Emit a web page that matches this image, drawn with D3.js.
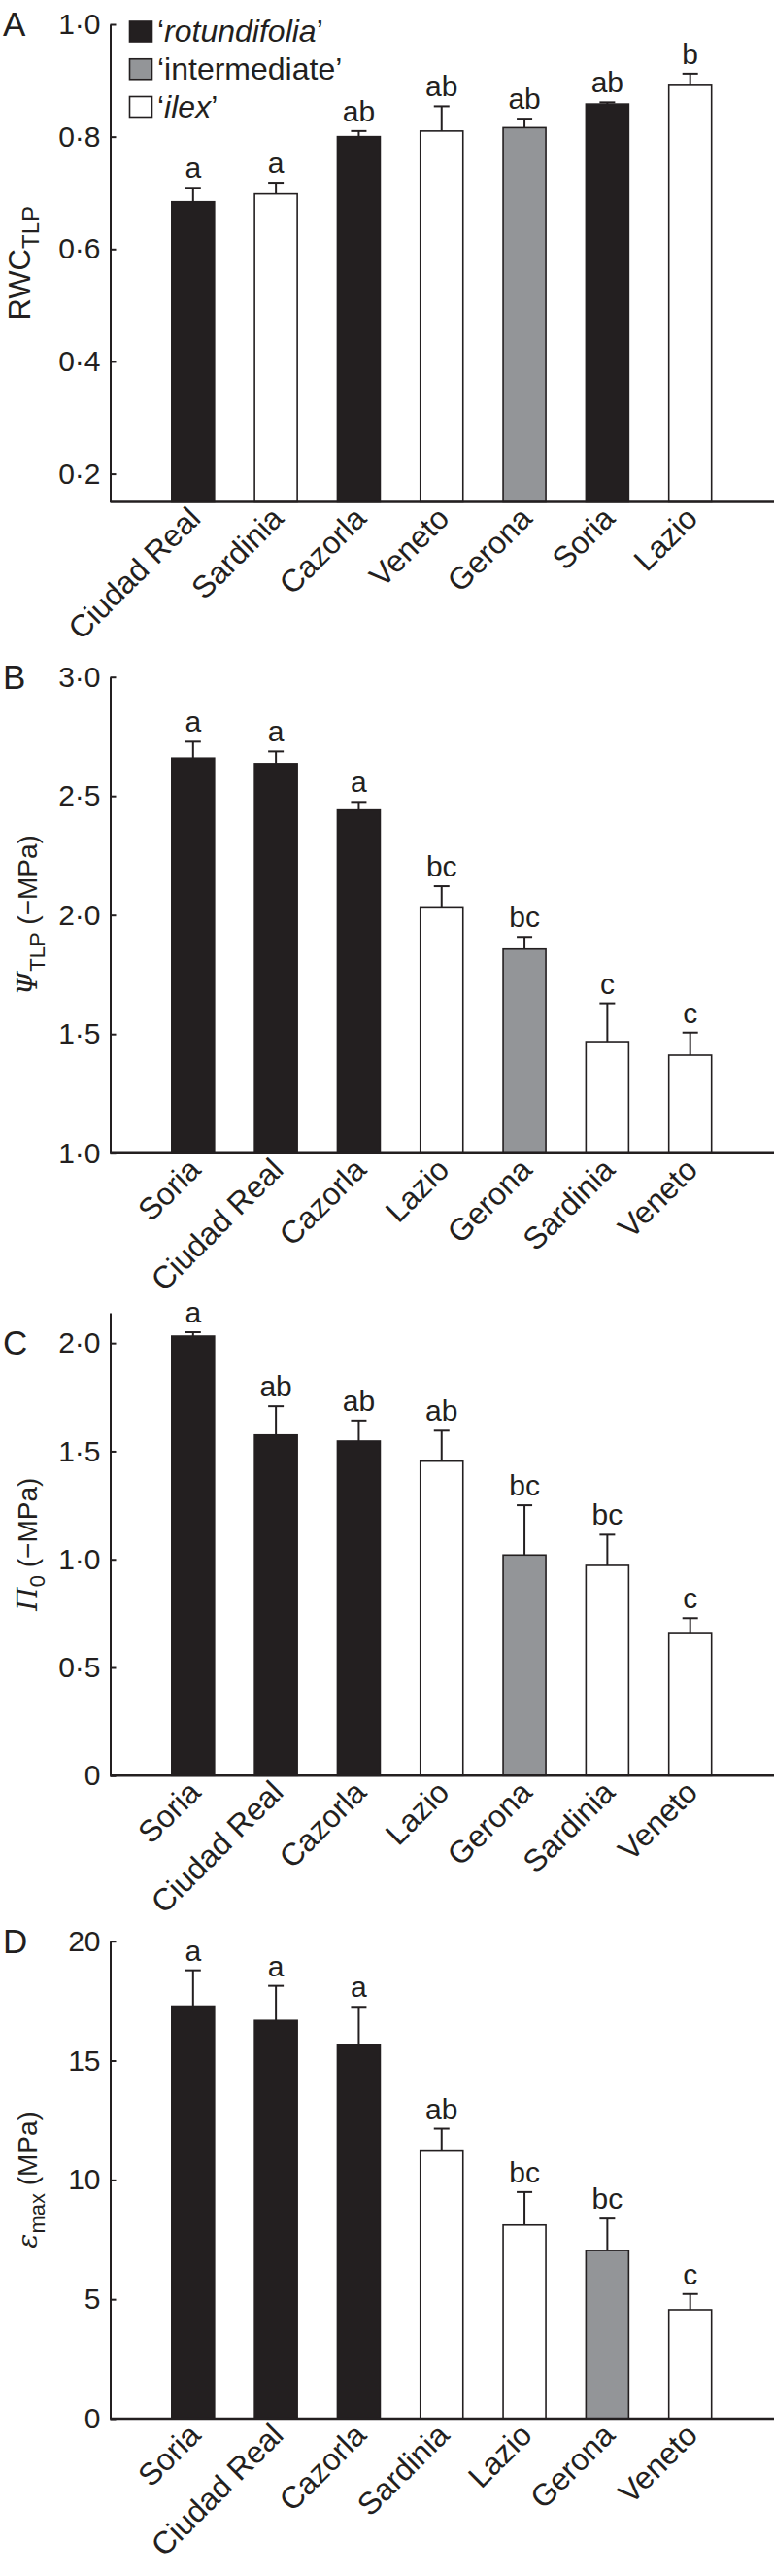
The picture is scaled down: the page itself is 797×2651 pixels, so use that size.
<!DOCTYPE html>
<html>
<head>
<meta charset="utf-8">
<script src="https://cdn.jsdelivr.net/npm/d3@7/dist/d3.min.js"></script>
<style>
  html, body { margin: 0; padding: 0; background: #fff; }
  svg { display: block; }
  text { font-family: "Liberation Sans", Arial, Helvetica, sans-serif; fill: #231f20; }
</style>
</head>
<body>
<svg id="chart" width="797" height="2651"></svg>
<script>
// ---------- DATA ----------
const categoriesA = ["Ciudad Real", "Sardinia", "Cazorla", "Veneto", "Gerona", "Soria", "Lazio"];
const valuesA = [0.684, 0.698, 0.800, 0.810, 0.816, 0.858, 0.893];
const errorsA = [0.025, 0.020, 0.010, 0.044, 0.016, 0.003, 0.019];
const lettersA = ["a", "a", "ab", "ab", "ab", "ab", "b"];
const groupsA = ["rotundifolia", "ilex", "rotundifolia", "ilex", "intermediate", "rotundifolia", "ilex"];
const ticksA = [0.2, 0.4, 0.6, 0.8, 1.0];

const categoriesB = ["Soria", "Ciudad Real", "Cazorla", "Lazio", "Gerona", "Sardinia", "Veneto"];
const valuesB = [2.659, 2.636, 2.441, 2.034, 1.857, 1.468, 1.411];
const errorsB = [0.069, 0.051, 0.034, 0.087, 0.051, 0.161, 0.095];
const lettersB = ["a", "a", "a", "bc", "bc", "c", "c"];
const groupsB = ["rotundifolia", "rotundifolia", "rotundifolia", "ilex", "intermediate", "ilex", "ilex"];
const ticksB = [1.0, 1.5, 2.0, 2.5, 3.0];

const categoriesC = ["Soria", "Ciudad Real", "Cazorla", "Lazio", "Gerona", "Sardinia", "Veneto"];
const valuesC = [2.032, 1.575, 1.547, 1.454, 1.020, 0.972, 0.657];
const errorsC = [0.018, 0.133, 0.095, 0.141, 0.230, 0.142, 0.071];
const lettersC = ["a", "ab", "ab", "ab", "bc", "bc", "c"];
const groupsC = ["rotundifolia", "rotundifolia", "rotundifolia", "ilex", "intermediate", "ilex", "ilex"];
const ticksC = [0, 0.5, 1.0, 1.5, 2.0];

const categoriesD = ["Soria", "Ciudad Real", "Cazorla", "Sardinia", "Lazio", "Gerona", "Veneto"];
const valuesD = [17.28, 16.68, 15.64, 11.21, 8.11, 7.04, 4.56];
const errorsD = [1.50, 1.45, 1.61, 0.94, 1.38, 1.34, 0.66];
const lettersD = ["a", "a", "a", "ab", "bc", "bc", "c"];
const groupsD = ["rotundifolia", "rotundifolia", "rotundifolia", "ilex", "ilex", "intermediate", "ilex"];
const ticksD = [0, 5, 10, 15, 20];

const legendGroups = ["rotundifolia", "intermediate", "ilex"];
const legendItalic = [true, false, true];

// ---------- STYLE ----------
const INK = "#231f20";
const fillFor = { rotundifolia: "#231f20", intermediate: "#939598", ilex: "#ffffff" };
const fmtDot = d => (d === 0 ? "0" : (Number.isInteger(d) && d >= 5 ? String(d) : d3.format(".1f")(d).replace(".", "\u00b7")));

const svg = d3.select("#chart");
svg.append("rect").attr("width", 797).attr("height", 2651).attr("fill", "#fff");

const X0 = 113.5, X1 = 796;
const BAR_W = 44;

const panels = [
  { letter: "A", cats: categoriesA, vals: valuesA, errs: errorsA, lets: lettersA, groups: groupsA, ticks: ticksA,
    domain: [0.15, 1.0], range: [516.5, 25], title: "RWC", legend: true },
  { letter: "B", cats: categoriesB, vals: valuesB, errs: errorsB, lets: lettersB, groups: groupsB, ticks: ticksB,
    domain: [1.0, 3.0], range: [1186.7, 696.7], title: "PSI" },
  { letter: "C", cats: categoriesC, vals: valuesC, errs: errorsC, lets: lettersC, groups: groupsC, ticks: ticksC,
    domain: [0, 2.14], range: [1827.3, 1351], title: "PI" },
  { letter: "D", cats: categoriesD, vals: valuesD, errs: errorsD, lets: lettersD, groups: groupsD, ticks: ticksD,
    domain: [0, 20], range: [2489, 1997.7], title: "EPS" }
];

panels.forEach(p => {
  const g = svg.append("g");
  const x = d3.scalePoint().domain(p.cats).range([X0, X1]).padding(1);
  const y = d3.scaleLinear().domain(p.domain).range(p.range);
  const base = y(p.domain[0]);

  // bars
  g.selectAll("rect.bar").data(p.cats).enter().append("rect")
    .attr("class", "bar")
    .attr("x", d => x(d) - BAR_W / 2)
    .attr("width", BAR_W)
    .attr("y", (d, i) => y(p.vals[i]))
    .attr("height", (d, i) => base - y(p.vals[i]))
    .attr("fill", (d, i) => fillFor[p.groups[i]])
    .attr("stroke", INK)
    .attr("stroke-width", 1.6);

  // error bars (upper only)
  g.selectAll("line.err").data(p.cats).enter().append("line")
    .attr("x1", d => x(d)).attr("x2", d => x(d))
    .attr("y1", (d, i) => y(p.vals[i]))
    .attr("y2", (d, i) => y(p.vals[i] + p.errs[i]))
    .attr("stroke", INK).attr("stroke-width", 2);
  g.selectAll("line.cap").data(p.cats).enter().append("line")
    .attr("x1", d => x(d) - 8).attr("x2", d => x(d) + 8)
    .attr("y1", (d, i) => y(p.vals[i] + p.errs[i]))
    .attr("y2", (d, i) => y(p.vals[i] + p.errs[i]))
    .attr("stroke", INK).attr("stroke-width", 2);

  // significance letters
  g.selectAll("text.sig").data(p.cats).enter().append("text")
    .attr("x", d => x(d))
    .attr("y", (d, i) => y(p.vals[i] + p.errs[i]) - 10)
    .attr("text-anchor", "middle")
    .style("font-size", "30px")
    .text((d, i) => p.lets[i]);

  // y axis
  const yAxis = d3.axisLeft(y).tickValues(p.ticks).tickFormat(fmtDot)
    .tickSizeInner(-6).tickSizeOuter(0).tickPadding(10);
  const ya = g.append("g").attr("transform", `translate(${X0},0)`).call(yAxis);
  ya.select(".domain").attr("stroke", INK).attr("stroke-width", 2);
  ya.selectAll(".tick line").attr("stroke", INK).attr("stroke-width", 2);
  ya.selectAll(".tick text").attr("fill", INK)
    .style("font-size", "30px").style("font-family", "'Liberation Sans', Arial, sans-serif");

  // x axis
  const xAxis = d3.axisBottom(x).tickSize(0).tickSizeOuter(0);
  const xa = g.append("g").attr("transform", `translate(0,${base})`).call(xAxis);
  xa.select(".domain").attr("stroke", INK).attr("stroke-width", 2.4)
    .attr("d", `M${X0},0H797`);
  xa.selectAll(".tick text")
    .attr("fill", INK)
    .attr("x", 0).attr("y", 0).attr("dy", null)
    .attr("text-anchor", "end")
    .attr("transform", "translate(9,19) rotate(-45)")
    .style("font-size", "32px")
    .style("font-family", "'Liberation Sans', Arial, sans-serif");

  // panel letter
  g.append("text").attr("x", 3).attr("y", y(p.ticks[p.ticks.length - 1]) + 12)
    .style("font-size", "35px").text(p.letter);

  // y title
  const cy = (p.range[0] + p.range[1]) / 2;
  if (p.title === "RWC") {
    const t = g.append("text").attr("transform", `translate(31,${cy}) rotate(-90)`)
      .attr("text-anchor", "middle").style("font-size", "31px");
    t.append("tspan").text("RWC");
    t.append("tspan").attr("dy", 9).style("font-size", "24px").text("TLP");
  } else {
    const t = g.append("text").attr("transform", `translate(38,${cy}) rotate(-90)`)
      .attr("text-anchor", "middle").style("font-size", "28px");
    if (p.title === "PSI") {
      t.append("tspan").style("font-style", "italic").style("font-family", "'DejaVu Serif', serif").text("\u03a8");
      t.append("tspan").attr("dy", 8).style("font-size", "22px").text("TLP");
      t.append("tspan").attr("dy", -8).text(" (\u2212MPa)");
    } else if (p.title === "PI") {
      t.append("tspan").style("font-style", "italic").style("font-family", "'DejaVu Serif', serif").text("\u03a0");
      t.append("tspan").attr("dy", 8).style("font-size", "22px").text("0");
      t.append("tspan").attr("dy", -8).text(" (\u2212MPa)");
    } else {
      t.append("tspan").style("font-style", "italic").style("font-family", "'DejaVu Serif', serif").text("\u03b5");
      t.append("tspan").attr("dy", 8).style("font-size", "22px").text("max");
      t.append("tspan").attr("dy", -8).text(" (MPa)");
    }
  }

  // legend
  if (p.legend) {
    const lg = g.append("g");
    const rowY = d3.scalePoint().domain(legendGroups).range([22, 99.5]);
    legendGroups.forEach((k, i) => {
      lg.append("rect").attr("x", 133.5).attr("y", rowY(k)).attr("width", 23).attr("height", 21)
        .attr("fill", fillFor[k]).attr("stroke", INK).attr("stroke-width", 1.6);
      const t = lg.append("text").attr("x", 162).attr("y", rowY(k) + 21).style("font-size", "32px");
      t.append("tspan").text("\u2018");
      t.append("tspan").style("font-style", legendItalic[i] ? "italic" : "normal").text(k);
      t.append("tspan").text("\u2019");
    });
  }
});
</script>
</body>
</html>
